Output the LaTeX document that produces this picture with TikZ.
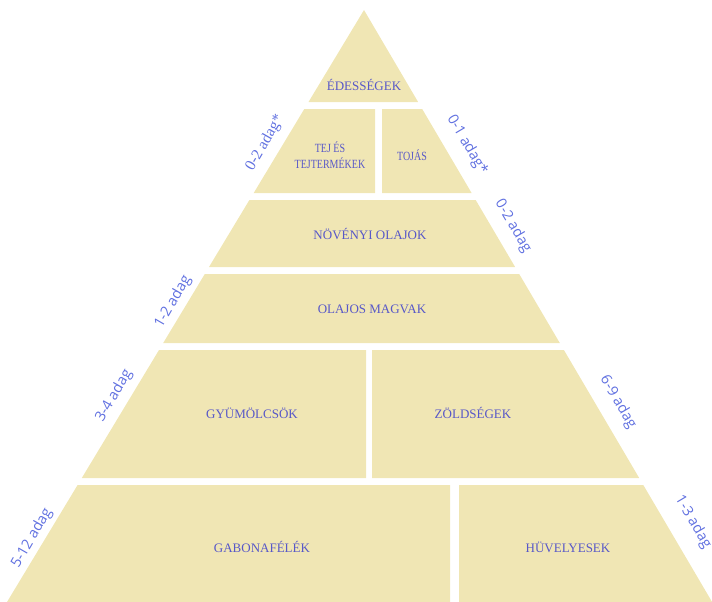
\documentclass[tikz,border=0pt]{standalone}
\usepackage{fontspec}
\setmainfont{Liberation Serif}
\newfontfamily\sidefont{Open Sans}
\definecolor{khaki}{RGB}{240,230,180}
\definecolor{foodblue}{RGB}{88,88,200}
\definecolor{portionblue}{RGB}{96,112,224}
\tikzset{
  layer/.style={fill=khaki, draw=none},
  food/.style={text=foodblue, font=\fontsize{13}{15}\selectfont, inner sep=0pt, align=center},
  smallfood/.style={text=foodblue, font=\fontsize{12.5}{16}\selectfont, inner sep=0pt, align=center, xscale=0.8},
  portion/.style={text=portionblue, font=\sidefont\fontsize{14.5}{16}\selectfont, inner sep=0pt},
  portionserif/.style={text=portionblue, font=\fontsize{15.5}{17}\selectfont, inner sep=0pt}
}
\begin{document}
\begin{tikzpicture}[x=1pt, y=-1pt]
\useasboundingbox (0,0) rectangle (712,602);

% pyramid layers
\fill[layer] (364,10) -- (418.1,102) -- (308.5,102) -- cycle;
\fill[layer] (304.3,109) -- (375,109) -- (375,193) -- (253.7,193) -- cycle;
\fill[layer] (382,109) -- (422.2,109) -- (471.6,193) -- (382,193) -- cycle;
\fill[layer] (249.4,200) -- (475.7,200) -- (515.1,267) -- (209,267) -- cycle;
\fill[layer] (204.8,274) -- (519.2,274) -- (559.8,343) -- (163.2,343) -- cycle;
\fill[layer] (159,350) -- (366,350) -- (366,478) -- (81.8,478) -- cycle;
\fill[layer] (372,350) -- (563.9,350) -- (639.2,478) -- (372,478) -- cycle;
\fill[layer] (77.6,485) -- (450,485) -- (450,602) -- (7,602) -- cycle;
\fill[layer] (459,485) -- (643.3,485) -- (712.1,602) -- (459,602) -- cycle;

% food groups
\node[food] (sweets) at (364,85) {ÉDESSÉGEK};
\node[smallfood] (dairy) at (330,155) {TEJ ÉS\\TEJTERMÉKEK};
\node[smallfood] (eggs) at (412,155) {TOJÁS};
\node[food] (oils) at (370,234) {NÖVÉNYI OLAJOK};
\node[food] (seeds) at (372,309) {OLAJOS MAGVAK};
\node[food] (fruits) at (252,413) {GYÜMÖLCSÖK};
\node[food] (vegs) at (473,413) {ZÖLDSÉGEK};
\node[food] (grains) at (262,547) {GABONAFÉLÉK};
\node[food] (legumes) at (568,547) {HÜVELYESEK};

% portions along the sides
\node[portionserif, rotate=60] (pdairy) at (265,143) {0-2 adag*};
\node[portion, rotate=-59.5] (peggs) at (467,145) {0-1 adag*};
\node[portion, rotate=-59.5] (poils) at (513,226) {0-2 adag};
\node[portion, rotate=60] (pseeds) at (173,302) {1-2 adag};
\node[portion, rotate=60] (pfruits) at (114,396) {3-4 adag};
\node[portion, rotate=-59.5] (pvegs) at (618,402) {6-9 adag};
\node[portion, rotate=60] (pgrains) at (32,538) {5-12 adag};
\node[portion, rotate=-59.5] (plegumes) at (693,522) {1-3 adag};
\end{tikzpicture}
\end{document}
